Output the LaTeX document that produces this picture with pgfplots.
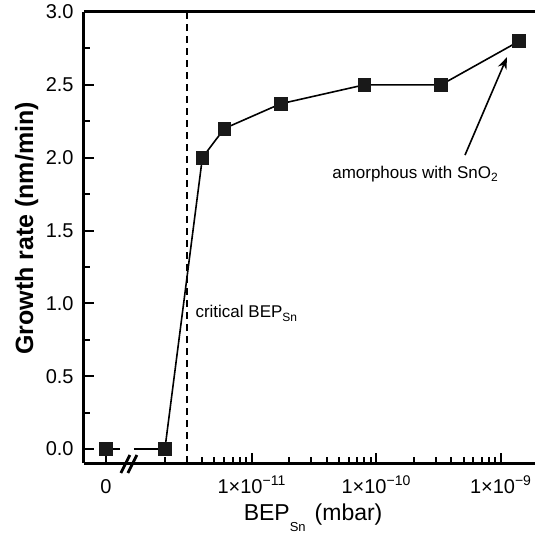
\documentclass[border=0pt]{standalone}
\usepackage{fontspec}
\setmainfont{Liberation Sans}
\usepackage{pgfplots}
\pgfplotsset{compat=1.18}
\usetikzlibrary{arrows.meta}

\begin{document}
\begin{tikzpicture}
\useasboundingbox (-42pt,-36.5pt) rectangle (225.5pt,231.5pt);
\begin{axis}[
  at={(0,0)}, anchor=south west,
  scale only axis, width=225.5pt, height=225.5pt,
  xmode=log,
  xmin=4.48e-13, xmax=1.875e-9,
  ymin=-0.096, ymax=3.0,
  axis lines=left,
  axis line style={-, line width=1.5pt, black},
  tick align=inside,
  major tick length=4.8pt, minor tick length=2.8pt,
  every tick/.style={line width=1pt, black},
  xtick={6.71e-13,1e-11,1e-10,1e-9},
  xticklabels={0, 1×10\textsuperscript{−11}, 1×10\textsuperscript{−10}, 1×10\textsuperscript{−9}},
  minor xtick={2e-12,3e-12,4e-12,5e-12,6e-12,7e-12,8e-12,9e-12,
               2e-11,3e-11,4e-11,5e-11,6e-11,7e-11,8e-11,9e-11,
               2e-10,3e-10,4e-10,5e-10,6e-10,7e-10,8e-10,9e-10},
  ytick={0,0.5,1,1.5,2,2.5,3},
  minor ytick={0.25,0.75,1.25,1.75,2.25,2.75},
  y tick label style={/pgf/number format/fixed, /pgf/number format/fixed zerofill, /pgf/number format/precision=1, /pgf/number format/assume math mode=true},
  tick label style={font=\fontsize{10}{12}\selectfont, inner sep=0pt},
  yticklabel style={anchor=east, xshift=-5pt},
  xticklabel style={anchor=base, yshift=-15pt},
  xlabel={BEP\raisebox{-5.5pt}{\fontsize{6.5}{7}\selectfont Sn}\hspace{4.5pt}(mbar)},
  ylabel={\bfseries Growth rate (nm/min)},
  xlabel style={font=\fontsize{11.5}{13}\selectfont, at={(axis description cs:0.508,-0.1264)}, anchor=base, inner sep=0pt},
  ylabel style={font=\fontsize{12.5}{14}\selectfont, at={(axis description cs:-0.113,0.52)}, anchor=base, inner sep=0pt},
  clip=false,
]
% dashed segment across the axis break
\addplot[black, line width=0.8pt, dash pattern=on 7pt off 7pt on 60pt off 0pt] coordinates {(6.71e-13,0) (2e-12,0)};
% critical BEP line
\addplot[black, line width=1pt, dash pattern=on 3.5pt off 2.5pt] coordinates {(3e-12,-0.096) (3e-12,3.0)};
% main curve
\addplot[black, line width=0.8pt] coordinates {
  (2e-12,0) (4e-12,2.0) (6e-12,2.2) (1.7e-11,2.37) (8e-11,2.5) (3.3e-10,2.5) (1.4e-9,2.8)};
% markers
\addplot[only marks, mark=square*, mark size=3.2pt, mark options={fill=black!90, draw=black!90}] coordinates {
  (6.71e-13,0) (2e-12,0) (4e-12,2.0) (6e-12,2.2) (1.7e-11,2.37) (8e-11,2.5) (3.3e-10,2.5) (1.4e-9,2.8)};
% top frame line
\draw[line width=1.5pt] (rel axis cs:0,1) -- (rel axis cs:1,1);
% axis break marks
\draw[line width=1.4pt] ([xshift=-3.25pt,yshift=-5pt]axis cs:1.0e-12,-0.096) -- ++(4.5pt,9pt);
\draw[line width=1.4pt] ([xshift=0.25pt,yshift=-5pt]axis cs:1.0e-12,-0.096) -- ++(4.5pt,9pt);
% annotations
\node[anchor=west, inner sep=0pt, font=\fontsize{8.5}{10}\selectfont] at (axis cs:3.5e-12,0.93) {critical BEP\raisebox{-2pt}{\fontsize{6}{7}\selectfont Sn}};
\node[inner sep=0pt, font=\fontsize{8.5}{10}\selectfont] at (axis cs:2.04e-10,1.89) {amorphous with SnO\raisebox{-1.5pt}{\fontsize{6}{7}\selectfont 2}};
\draw[line width=0.8pt, -{Stealth[length=6pt, width=4.5pt]}] (axis cs:5.14e-10,2.018) -- (axis cs:1.117e-9,2.69);
\end{axis}
\end{tikzpicture}
\end{document}
